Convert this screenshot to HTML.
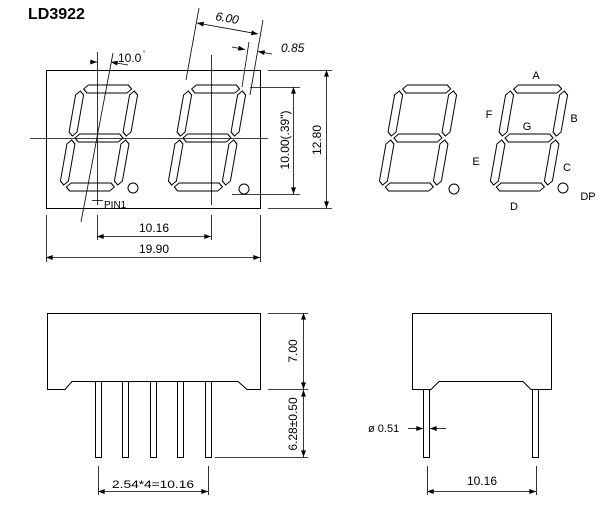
<!DOCTYPE html>
<html><head><meta charset="utf-8"><style>
body{margin:0;background:#fff;}
svg{display:block;font-family:"Liberation Sans",sans-serif;}
</style></head><body>
<svg width="604" height="505" viewBox="0 0 604 505" xmlns="http://www.w3.org/2000/svg">
<defs>
<g id="dig" fill="#fff" stroke="#000" stroke-width="1">
<polygon points="7,4 11,0 51,0 55,4 51,8 11,8"/>
<polygon points="7,53 11,49 51,49 55,53 51,57 11,57"/>
<polygon points="7,102 11,98 51,98 55,102 51,106 11,106"/>
<polygon points="4,6 8,10 8,47 4,51 0,47 0,10"/>
<polygon points="58,6 62,10 62,47 58,51 54,47 54,10"/>
<polygon points="4,55 8,59 8,96 4,100 0,96 0,59"/>
<polygon points="58,55 62,59 62,96 58,100 54,96 54,59"/>
</g>
<marker id="ar" viewBox="0 0 8 6" refX="8" refY="3" markerWidth="7" markerHeight="5" orient="auto-start-reverse" markerUnits="userSpaceOnUse"><path d="M0,0 L8,3 L0,6 z" fill="#000"/></marker>
</defs>
<text x="28" y="19" font-size="16" font-weight="bold">LD3922</text>
<g stroke="#000" stroke-width="1" fill="none">
<rect x="46.5" y="70.5" width="214" height="138"/>
</g>
<use href="#dig" transform="translate(68,85) translate(0,53) skewX(-10) translate(0,-53)"/>
<use href="#dig" transform="translate(176,85) translate(0,53) skewX(-10) translate(0,-53)"/>
<use href="#dig" transform="translate(387,85) translate(0,53) skewX(-10) translate(0,-53)"/>
<use href="#dig" transform="translate(498,85) translate(0,53) skewX(-10) translate(0,-53)"/>
<g stroke="#000" fill="#fff" stroke-width="1">
<circle cx="133" cy="188" r="5"/><circle cx="244" cy="189" r="5"/>
<circle cx="454" cy="189" r="5"/><circle cx="563" cy="188" r="5"/>
</g>
<g stroke="#000" stroke-width="0.8" fill="none">
<line x1="30" y1="138.5" x2="268" y2="138.5"/>
<line x1="97.5" y1="52" x2="97.5" y2="205"/>
<line x1="92" y1="200.5" x2="103" y2="200.5"/>
<line x1="81" y1="222" x2="113" y2="53"/>
<line x1="211.5" y1="55" x2="211.5" y2="205"/>
<line x1="186" y1="80" x2="199" y2="8"/>
<line x1="242" y1="87" x2="249" y2="42"/>
<line x1="250" y1="95" x2="263" y2="20"/>
<line x1="197" y1="23" x2="258" y2="34" marker-start="url(#ar)" marker-end="url(#ar)"/>
<line x1="232" y1="47" x2="245" y2="49.5" marker-end="url(#ar)"/>
<line x1="272" y1="54" x2="258" y2="51.5" marker-end="url(#ar)"/>
<line x1="90" y1="62" x2="97" y2="62" marker-end="url(#ar)"/>
<line x1="128" y1="65" x2="111" y2="62" marker-end="url(#ar)"/>
<line x1="250" y1="87.5" x2="300" y2="87.5"/>
<line x1="232" y1="194.5" x2="300" y2="194.5"/>
<line x1="293.5" y1="87" x2="293.5" y2="194" marker-start="url(#ar)" marker-end="url(#ar)"/>
<line x1="268" y1="70.5" x2="332" y2="70.5"/>
<line x1="268" y1="208.5" x2="332" y2="208.5"/>
<line x1="326.5" y1="70" x2="326.5" y2="208" marker-start="url(#ar)" marker-end="url(#ar)"/>
<line x1="97.5" y1="215" x2="97.5" y2="240"/>
<line x1="211.5" y1="215" x2="211.5" y2="240"/>
<line x1="97" y1="236.5" x2="211" y2="236.5" marker-start="url(#ar)" marker-end="url(#ar)"/>
<line x1="46.5" y1="215" x2="46.5" y2="262"/>
<line x1="260.5" y1="215" x2="260.5" y2="262"/>
<line x1="46" y1="257.5" x2="260" y2="257.5" marker-start="url(#ar)" marker-end="url(#ar)"/>
</g>
<g font-size="12" fill="#000">
<text x="118" y="62" font-size="12">10.0</text><text x="143" y="55" font-size="6">°</text>
<text x="104" y="208" font-size="10">PIN1</text>
<text x="0" y="0" transform="translate(215,20) rotate(10)" font-style="italic">6.00</text>
<text x="281" y="52" font-style="italic">0.85</text>
<text transform="translate(289,140) rotate(-90)" text-anchor="middle">10.00(.39")</text>
<text transform="translate(321,140) rotate(-90)" text-anchor="middle">12.80</text>
<text x="154" y="232" text-anchor="middle">10.16</text>
<text x="154" y="253" text-anchor="middle">19.90</text>
<text x="536" y="79" text-anchor="middle" font-size="11">A</text>
<text x="489" y="118" text-anchor="middle" font-size="11">F</text>
<text x="527" y="130" text-anchor="middle" font-size="11">G</text>
<text x="574" y="122" text-anchor="middle" font-size="11">B</text>
<text x="476" y="165" text-anchor="middle" font-size="11">E</text>
<text x="567" y="171" text-anchor="middle" font-size="11">C</text>
<text x="514" y="210" text-anchor="middle" font-size="11">D</text>
<text x="588" y="200" text-anchor="middle" font-size="11">DP</text>
</g>
<g stroke="#000" stroke-width="1" fill="none">
<path d="M47.5,313.5 H260.5 V389.5 H247 L238,381.5 H72 L65,389.5 H47.5 Z"/>
<rect x="95.5" y="381.5" width="6" height="76"/>
<rect x="122.5" y="381.5" width="6" height="76"/>
<rect x="150.5" y="381.5" width="6" height="76"/>
<rect x="177.5" y="381.5" width="6" height="76"/>
<rect x="205.5" y="381.5" width="6" height="76"/>
<path d="M412.5,313.5 H551.5 V389.5 H531 L523,381.5 H439 L431,389.5 H412.5 Z"/>
<rect x="423.5" y="389.5" width="6" height="68"/>
<rect x="532.5" y="389.5" width="6" height="68"/>
</g>
<g stroke="#000" stroke-width="0.8" fill="none">
<line x1="268" y1="313.5" x2="308" y2="313.5"/>
<line x1="268" y1="389.5" x2="308" y2="389.5"/>
<line x1="215" y1="457.5" x2="308" y2="457.5"/>
<line x1="303.5" y1="313" x2="303.5" y2="389" marker-start="url(#ar)" marker-end="url(#ar)"/>
<line x1="303.5" y1="390" x2="303.5" y2="457" marker-start="url(#ar)" marker-end="url(#ar)"/>
<line x1="98.5" y1="466" x2="98.5" y2="495"/>
<line x1="208.5" y1="466" x2="208.5" y2="495"/>
<line x1="98" y1="491.5" x2="208" y2="491.5" marker-start="url(#ar)" marker-end="url(#ar)"/>
<line x1="427.5" y1="466" x2="427.5" y2="495"/>
<line x1="536.5" y1="466" x2="536.5" y2="495"/>
<line x1="427" y1="491.5" x2="536" y2="491.5" marker-start="url(#ar)" marker-end="url(#ar)"/>
<line x1="408" y1="428.5" x2="423" y2="428.5" marker-end="url(#ar)"/>
<line x1="446" y1="428.5" x2="430" y2="428.5" marker-end="url(#ar)"/>
</g>
<g font-size="12" fill="#000">
<text transform="translate(297,351) rotate(-90)" text-anchor="middle">7.00</text>
<text transform="translate(297,424) rotate(-90)" text-anchor="middle">6.28±0.50</text>
<text x="153" y="488" text-anchor="middle" font-size="11" textLength="82" lengthAdjust="spacingAndGlyphs">2.54*4=10.16</text>
<text x="482" y="485" text-anchor="middle">10.16</text>
<text x="368" y="432" font-size="11">ø 0.51</text>
</g>
</svg>
</body></html>
